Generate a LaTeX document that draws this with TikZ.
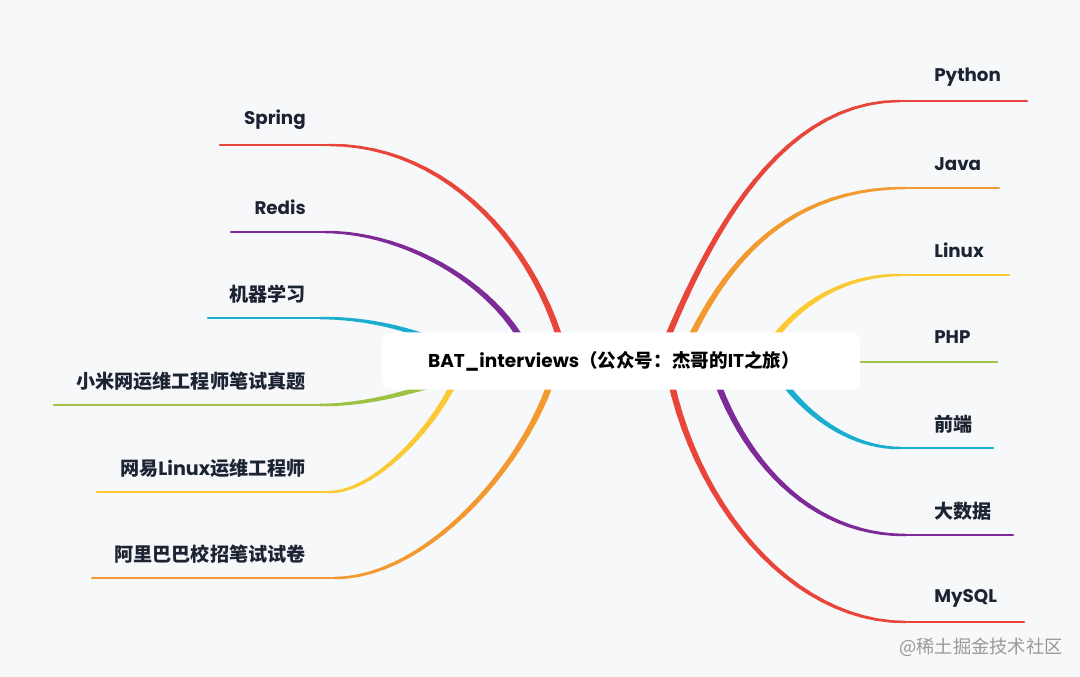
\documentclass[tikz,border=0pt]{standalone}
\usepackage{fontspec}
\setmainfont{Poppins}
\newfontfamily\cjk{Noto Sans CJK SC}
\usetikzlibrary{positioning,backgrounds}

\definecolor{bgc}{HTML}{F7F8FA}
\definecolor{labelc}{HTML}{1C2433}
\definecolor{redc}{HTML}{E9463B}
\definecolor{orangec}{HTML}{F29A2F}
\definecolor{yellowc}{HTML}{FAC933}
\definecolor{greenc}{HTML}{9DC244}
\definecolor{cyanc}{HTML}{1AADCF}
\definecolor{purplec}{HTML}{7F2B97}

% tapered curve: colour, root end, control 1, control 2, leaf end
\newcommand\branch[5]{%
  \path (#2) .. controls (#3) and (#4) .. (#5)
    foreach \n [evaluate=\n as \tpos using \n/24] in {0,...,24} {coordinate[pos=\tpos] (bz\n)};
  \foreach \n [remember=\n as \m (initially 0), evaluate=\n as \lw using 4.8-3.0*\n/24] in {1,...,24}
    \draw[#1, line width=\lw pt, line cap=round] (bz\m) -- (bz\n);
}

\begin{document}
\begin{tikzpicture}[
    x=0.025cm, y=-0.025cm,
    root/.style={rectangle, fill=white, rounded corners=0.2cm, minimum width=11.95cm, minimum height=1.425cm, inner sep=0pt, font=\fontsize{13.2}{15}\selectfont\bfseries, text=black},
    leaf/.style={inner sep=0pt, font=\fontsize{13}{15}\selectfont\bfseries, text=labelc},
    leafL/.style={leaf, anchor=east},
    leafR/.style={leaf, anchor=west},
    cjkleaf/.style={font=\fontsize{13.6}{15}\selectfont\bfseries},
    twig/.style={line width=1.8pt, line cap=round},
    watermark/.style={inner sep=0pt, font=\fontsize{13}{15}\selectfont, text=black!40}
]
    \useasboundingbox (0,0) rectangle (1080,677);

    \node[root] (root) at (621,361) {\hspace*{-10pt}BAT\_interviews{\cjk （公众号：杰哥的}IT{\cjk 之旅）}};

    % left side
    \node[leafL] (spring) at (306,120) {Spring};
    \node[leafL] (redis) at (306,207) {Redis};
    \node[leafL, cjkleaf] (ml) at (306,294) {\cjk 机器学习};
    \node[leafL, cjkleaf] (xiaomi) at (306,381) {\cjk 小米网运维工程师笔试真题};
    \node[leafL, cjkleaf] (netease) at (306,468) {{\cjk 网易}Linux{\cjk 运维工程师}};
    \node[leafL, cjkleaf] (alibaba) at (306,554) {\cjk 阿里巴巴校招笔试试卷};

    % right side
    \node[leafR] (python) at (934,77) {Python};
    \node[leafR] (java) at (934,164) {Java};
    \node[leafR] (linux) at (934,250) {Linux};
    \node[leafR] (php) at (934,337) {PHP};
    \node[leafR, cjkleaf] (web) at (934,424) {\cjk 前端};
    \node[leafR, cjkleaf] (bigdata) at (934,511) {\cjk 大数据};
    \node[leafR] (mysql) at (934,598) {MySQL};

    \node[watermark] (wm) at (981,647) {\cjk @稀土掘金技术社区};

    \coordinate (spring-a) at (566,361);  \coordinate (spring-b) at (330,145);  \coordinate (spring-c) at (220,145);
    \coordinate (redis-a) at (532,361);   \coordinate (redis-b) at (325,232);   \coordinate (redis-c) at (231,232);
    \coordinate (ml-a) at (480,361);      \coordinate (ml-b) at (320,318);      \coordinate (ml-c) at (208,318);
    \coordinate (xiaomi-a) at (480,370);  \coordinate (xiaomi-b) at (320,405);  \coordinate (xiaomi-c) at (54,405);
    \coordinate (netease-a) at (462,361); \coordinate (netease-b) at (330,492); \coordinate (netease-c) at (97,492);
    \coordinate (alibaba-a) at (557,361); \coordinate (alibaba-b) at (335,578); \coordinate (alibaba-c) at (92,578);

    \coordinate (python-a) at (658,361);  \coordinate (python-b) at (900,101);  \coordinate (python-c) at (1027,101);
    \coordinate (java-a) at (680,361);    \coordinate (java-b) at (905,188);    \coordinate (java-c) at (999,188);
    \coordinate (linux-a) at (760,361);   \coordinate (linux-b) at (900,275);   \coordinate (linux-c) at (1009,275);
    \coordinate (php-a) at (760,362);     \coordinate (php-c) at (997,362);
    \coordinate (web-a) at (770,361);     \coordinate (web-b) at (900,448);     \coordinate (web-c) at (993,448);
    \coordinate (bigdata-a) at (710,361); \coordinate (bigdata-b) at (905,535); \coordinate (bigdata-c) at (1013,535);
    \coordinate (mysql-a) at (667,361);   \coordinate (mysql-b) at (905,622);   \coordinate (mysql-c) at (1024,622);

    \begin{scope}[on background layer]
        \fill[bgc] (0,0) rectangle (1080,677);

        \branch{redc}{spring-a}{540,250}{450,145}{spring-b}
        \branch{purplec}{redis-a}{505,290}{410,232}{redis-b}
        \branch{cyanc}{ml-a}{450,345}{395,318}{ml-b}
        \branch{greenc}{xiaomi-a}{430,385}{380,405}{xiaomi-b}
        \branch{yellowc}{netease-a}{450,410}{380,492}{netease-b}
        \branch{orangec}{alibaba-a}{535,455}{430,578}{alibaba-b}

        \branch{redc}{python-a}{698,261}{770,101}{python-b}
        \branch{orangec}{java-a}{715,280}{775,188}{java-b}
        \branch{yellowc}{linux-a}{780,320}{830,275}{linux-b}
        \branch{cyanc}{web-a}{790,400}{840,448}{web-b}
        \branch{purplec}{bigdata-a}{740,460}{810,535}{bigdata-b}
        \branch{redc}{mysql-a}{690,500}{790,622}{mysql-b}

        \draw[redc, twig] (spring-b) -- (spring-c);
        \draw[purplec, twig] (redis-b) -- (redis-c);
        \draw[cyanc, twig] (ml-b) -- (ml-c);
        \draw[greenc, twig] (xiaomi-b) -- (xiaomi-c);
        \draw[yellowc, twig] (netease-b) -- (netease-c);
        \draw[orangec, twig] (alibaba-b) -- (alibaba-c);

        \draw[redc, twig] (python-b) -- (python-c);
        \draw[orangec, twig] (java-b) -- (java-c);
        \draw[yellowc, twig] (linux-b) -- (linux-c);
        \draw[greenc, twig] (php-a) -- (php-c);
        \draw[cyanc, twig] (web-b) -- (web-c);
        \draw[purplec, twig] (bigdata-b) -- (bigdata-c);
        \draw[redc, twig] (mysql-b) -- (mysql-c);
    \end{scope}
\end{tikzpicture}
\end{document}
